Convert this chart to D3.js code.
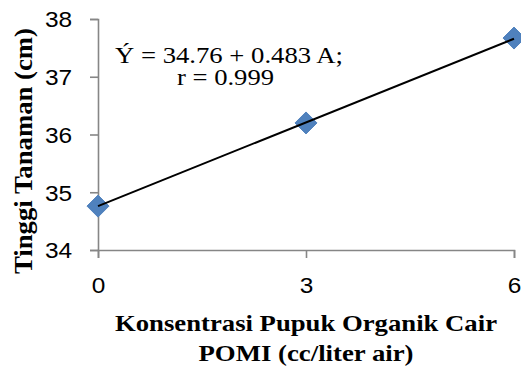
<!DOCTYPE html>
<html>
<head>
<meta charset="utf-8">
<script src="https://cdn.jsdelivr.net/npm/d3@7"></script>
<style>
  body { margin: 0; background: #fff; }
  svg { display: block; }
</style>
</head>
<body>
<div id="chart"></div>
<script>
'use strict';

// data
var doses = [0, 3, 6];
var heights = [34.76, 36.2, 37.67];
var xTicks = [0, 3, 6];
var yTicks = [34, 35, 36, 37, 38];
var intercept = 34.76;
var slope = 0.483;
var eqLines = ['\u00DD = 34.76 + 0.483 A;', 'r = 0.999'];
var xTitle = ['Konsentrasi Pupuk Organik Cair', 'POMI (cc/liter air)'];
var yTitle = 'Tinggi Tanaman (cm)';

var width = 521, height = 372;
var margin = { top: 19, right: 7, bot: 122, left: 98 };
var axisColor = '#868686';
var digitW = 13.6;

var svg = d3.select('#chart').append('svg')
  .attr('width', width)
  .attr('height', height);

var xScale = d3.scaleLinear().domain([0, 6]).range([margin.left, width - margin.right]);
var yScale = d3.scaleLinear().domain([34, 38]).range([height - margin.bot, margin.top]);

// axes
var yAxis = d3.axisLeft(yScale).tickValues(yTicks).tickSize(8).tickFormat(d3.format('d'));
var xAxis = d3.axisBottom(xScale).tickValues(xTicks).tickSize(8).tickFormat(d3.format('d'));

var gy = svg.append('g')
  .attr('transform', 'translate(' + margin.left + ',0)')
  .call(yAxis);
var gx = svg.append('g')
  .attr('transform', 'translate(0,' + yScale(34) + ')')
  .call(xAxis);

[gx, gy].forEach(function(g) {
  g.select('.domain').attr('stroke', axisColor).attr('stroke-width', 1.6);
  g.selectAll('.tick line').attr('stroke', axisColor).attr('stroke-width', 1.6);
  g.selectAll('.tick text')
    .attr('fill', '#000')
    .attr('text-anchor', 'start')
    .style('font-family', '"Liberation Sans", Arial, sans-serif')
    .style('font-size', '22px')
    .attr('textLength', function(d) { return String(d).length * digitW; })
    .attr('lengthAdjust', 'spacingAndGlyphs');
});
gy.selectAll('.tick text').attr('x', -53).attr('dy', '0.36em');
gx.selectAll('.tick text')
  .attr('x', function(d) { return -String(d).length * digitW / 2; })
  .attr('y', 43).attr('dy', 0);

// trend line from the fitted equation
var line = d3.line()
  .x(function(d) { return xScale(d); })
  .y(function(d) { return yScale(intercept + slope * d); });

// diamond markers
var dSize = 11;
svg.selectAll('path.marker')
  .data(doses)
  .enter().append('path')
  .attr('class', 'marker')
  .attr('d', function(d, i) {
    var cx = xScale(d), cy = yScale(heights[i]);
    return 'M' + cx + ',' + (cy - dSize) + 'L' + (cx + dSize) + ',' + cy +
      'L' + cx + ',' + (cy + dSize) + 'L' + (cx - dSize) + ',' + cy + 'Z';
  })
  .attr('fill', '#4F81BD')
  .attr('stroke', '#4F81BD')
  .attr('stroke-width', 1)
  .attr('stroke-linejoin', 'round');

svg.append('path')
  .datum(d3.extent(doses))
  .attr('d', line)
  .attr('fill', 'none')
  .attr('stroke', '#000')
  .attr('stroke-width', 2);

// equation text
var serif = '"Liberation Serif", "Times New Roman", serif';
svg.append('text')
  .attr('x', 115).attr('y', 63)
  .attr('textLength', 228).attr('lengthAdjust', 'spacingAndGlyphs')
  .style('font-family', serif).style('font-size', '24px')
  .text(eqLines[0]);
svg.append('text')
  .attr('x', 177).attr('y', 85)
  .attr('textLength', 97).attr('lengthAdjust', 'spacingAndGlyphs')
  .style('font-family', serif).style('font-size', '24px')
  .text(eqLines[1]);

// axis titles
var xMid = (xScale(0) + xScale(6)) / 2;
svg.append('text')
  .attr('x', xMid).attr('y', 331)
  .attr('text-anchor', 'middle')
  .attr('textLength', 382).attr('lengthAdjust', 'spacingAndGlyphs')
  .style('font-family', serif).style('font-size', '24px').style('font-weight', 'bold')
  .text(xTitle[0]);
svg.append('text')
  .attr('x', xMid).attr('y', 361)
  .attr('text-anchor', 'middle')
  .attr('textLength', 215).attr('lengthAdjust', 'spacingAndGlyphs')
  .style('font-family', serif).style('font-size', '24px').style('font-weight', 'bold')
  .text(xTitle[1]);

svg.append('text')
  .attr('transform', 'translate(32,151) rotate(-90)')
  .attr('text-anchor', 'middle')
  .attr('textLength', 246).attr('lengthAdjust', 'spacingAndGlyphs')
  .style('font-family', serif).style('font-size', '25px').style('font-weight', 'bold')
  .text(yTitle);
</script>
</body>
</html>
